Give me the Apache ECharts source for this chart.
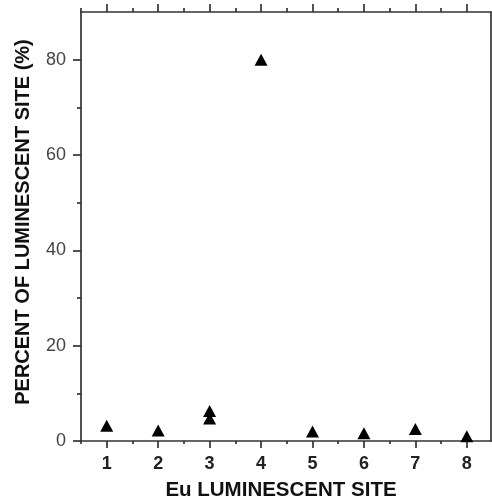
<!DOCTYPE html>
<html>
<head>
<meta charset="utf-8">
<script src="https://cdn.jsdelivr.net/npm/echarts@6/dist/echarts.min.js"></script>
<style>html,body{margin:0;padding:0;background:#fff;}#c{width:492px;height:504px;}</style>
</head>
<body>
<div id="c"></div>
<script>
// Data
var sites = [1, 2, 3, 3, 4, 5, 6, 7, 8];
var percents = [3.2, 2.2, 6.3, 4.7, 80, 2.0, 1.6, 2.5, 1.0];
var xTickLabels = [1, 2, 3, 4, 5, 6, 7, 8];
var xMinorTicks = [0.5, 1.5, 2.5, 3.5, 4.5, 5.5, 6.5, 7.5];
var yTickLabels = [0, 20, 40, 60, 80];
var yMinorTicks = [10, 30, 50, 70];
var xTitle = 'Eu LUMINESCENT SITE';
var yTitle = 'PERCENT OF LUMINESCENT SITE (%)';

var chart = echarts.init(document.getElementById('c'), null, {renderer: 'canvas'});
var lineStyle = {color: '#333', width: 1.7};
var grid = {left: 81, top: 12, width: 410, height: 429};
var xBase = {type: 'value', min: 0.5, max: 8.47, gridIndex: 0, splitLine: {show: false}};
var yBase = {type: 'value', min: 0, max: 90, gridIndex: 0, splitLine: {show: false}};

var option = {
  animation: false,
  backgroundColor: '#fff',
  grid: [grid],
  xAxis: [
    Object.assign({}, xBase, {position: 'bottom',
      axisLine: {show: true, onZero: false, lineStyle: lineStyle},
      axisTick: {show: true, length: 7, customValues: xTickLabels, lineStyle: lineStyle},
      axisLabel: {show: true, customValues: xTickLabels, margin: 14, fontSize: 18, fontWeight: 'bold',
        color: '#222', fontFamily: 'Liberation Sans, Arial, sans-serif'}}),
    Object.assign({}, xBase, {position: 'bottom',
      axisLine: {show: false, onZero: false},
      axisTick: {show: true, length: 3, customValues: xMinorTicks, lineStyle: lineStyle},
      axisLabel: {show: false}}),
    Object.assign({}, xBase, {position: 'top',
      axisLine: {show: true, onZero: false, lineStyle: lineStyle},
      axisTick: {show: true, length: 8, customValues: xTickLabels, lineStyle: lineStyle},
      axisLabel: {show: false}}),
    Object.assign({}, xBase, {position: 'top',
      axisLine: {show: false, onZero: false},
      axisTick: {show: true, length: 4, customValues: xMinorTicks, lineStyle: lineStyle},
      axisLabel: {show: false}})
  ],
  yAxis: [
    Object.assign({}, yBase, {position: 'left',
      axisLine: {show: true, onZero: false, lineStyle: lineStyle},
      axisTick: {show: true, length: 8, customValues: yTickLabels, lineStyle: lineStyle},
      axisLabel: {show: true, customValues: yTickLabels, margin: 15, fontSize: 18,
        color: '#444', fontFamily: 'Liberation Sans, Arial, sans-serif'}}),
    Object.assign({}, yBase, {position: 'left',
      axisLine: {show: false, onZero: false},
      axisTick: {show: true, length: 4, customValues: yMinorTicks, lineStyle: lineStyle},
      axisLabel: {show: false}}),
    Object.assign({}, yBase, {position: 'right',
      axisLine: {show: true, onZero: false, lineStyle: lineStyle},
      axisTick: {show: false},
      axisLabel: {show: false}})
  ],
  graphic: [
    {type: 'text', x: 281, y: 490, style: {text: xTitle, align: 'center', verticalAlign: 'middle',
      font: 'bold 20.5px "Liberation Sans", Arial, sans-serif', fill: '#111'}},
    {type: 'text', x: 23, y: 222, rotation: Math.PI / 2, style: {text: yTitle, align: 'center', verticalAlign: 'middle',
      font: 'bold 20px "Liberation Sans", Arial, sans-serif', fill: '#111'}}
  ],
  series: [{
    type: 'scatter',
    xAxisIndex: 0, yAxisIndex: 0,
    symbol: 'triangle',
    symbolSize: [13, 12],
    clip: false,
    itemStyle: {color: '#000', opacity: 1},
    data: sites.map(function (s, i) { return [s, percents[i]]; })
  }]
};
chart.setOption(option);
</script>
</body>
</html>
